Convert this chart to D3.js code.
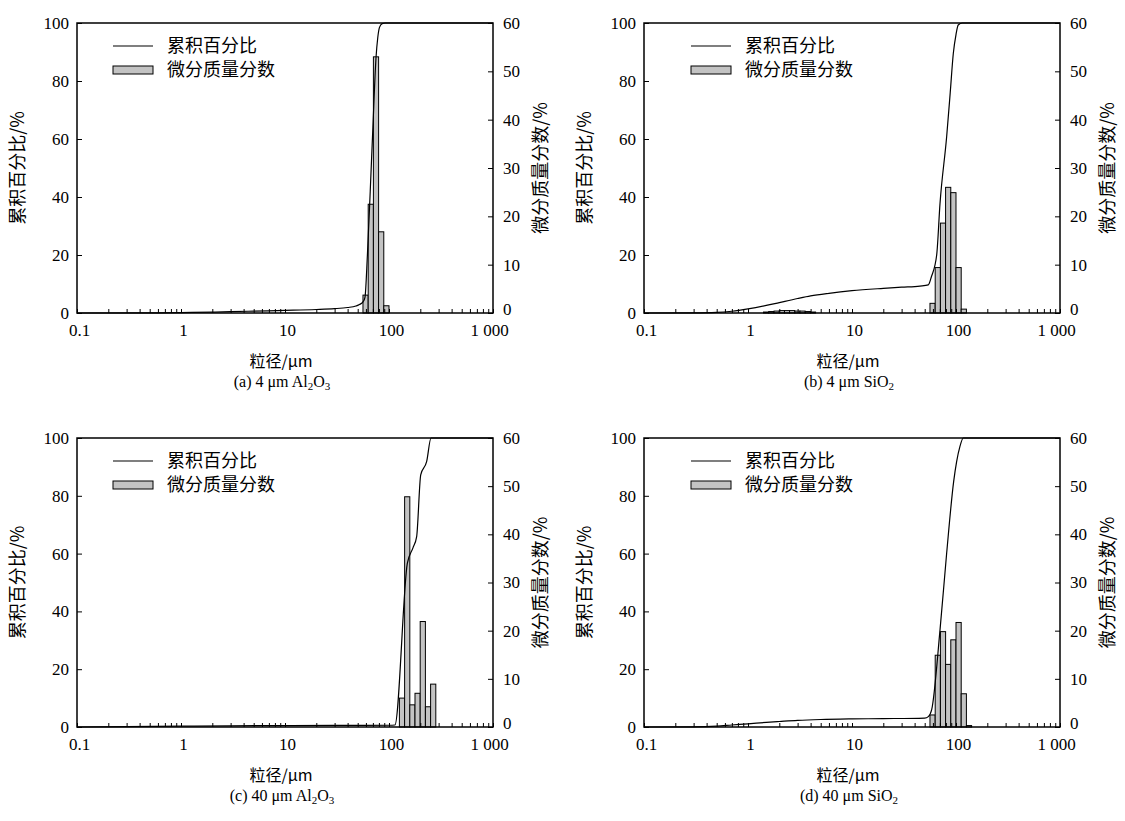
<!DOCTYPE html>
<html><head><meta charset="utf-8">
<script src="https://cdn.jsdelivr.net/npm/d3@7"></script>
<style>body{margin:0;background:#fff}</style>
</head><body>
<svg id="chart" width="1125" height="821"></svg>
<script>
// ---------- data ----------
const xTickValues = [0.1, 1, 10, 100, 1000];
const xTickLabels = ["0.1", "1", "10", "100", "1 000"];
const leftTicks = [0, 20, 40, 60, 80, 100];
const rightTicks = [0, 10, 20, 30, 40, 50, 60];
const legendLabels = ["累积百分比", "微分质量分数"];
const xTitle = "粒径/μm";
const yLeftTitle = "累积百分比/%";
const yRightTitle = "微分质量分数/%";
const binRatio = 1.122; // width of one size class (10^0.05)

// (a) 4 μm Al2O3
const binsA = [56.2, 63.1, 70.8, 79.4, 89.1];
const valsA = [3.7, 22.5, 53.0, 16.8, 1.5];
const cumXA = [0.1, 0.5, 1, 2, 3, 5, 10, 20, 30, 40, 48, 52, 56.6, 58.8, 62, 66, 70, 75, 78, 81, 86, 92, 1000];
const cumYA = [0, 0.05, 0.15, 0.3, 0.45, 0.65, 0.9, 1.2, 1.5, 1.9, 2.4, 2.9, 4.0, 5.5, 20, 42, 64, 88, 95, 98.5, 99.8, 100, 100];

// (b) 4 μm SiO2
const binsB = [1.41, 1.58, 1.78, 2.0, 2.24, 2.51, 2.82, 3.16, 3.55, 3.98, 56.2, 63.1, 70.8, 79.4, 89.1, 100, 112.2];
const valsB = [0.2, 0.3, 0.4, 0.5, 0.5, 0.5, 0.4, 0.4, 0.3, 0.2, 2.0, 9.4, 18.6, 26.0, 24.9, 9.4, 0.8];
const cumXB = [0.1, 0.3, 0.5, 0.7, 1, 1.5, 2, 3, 4, 6, 10, 20, 30, 45, 54.2, 58, 65.2, 70.2, 81.3, 88, 94.2, 100, 105, 115, 1000];
const cumYB = [0, 0.05, 0.2, 0.6, 1.4, 2.6, 3.6, 5.0, 5.9, 6.8, 7.7, 8.5, 8.9, 9.3, 9.7, 12.5, 20, 37.8, 60.8, 76, 89.5, 96, 99.3, 100, 100];

// (c) 40 μm Al2O3
const binsC = [125.9, 141.3, 158.5, 177.8, 199.5, 223.9, 251.2];
const valsC = [6.0, 47.8, 4.6, 7.0, 21.9, 4.2, 8.9];
const cumXC = [0.1, 0.3, 1, 3, 10, 30, 100, 114, 150, 170, 184.5, 201.8, 230, 253.6, 1000];
const cumYC = [0, 0.1, 0.3, 0.4, 0.5, 0.55, 0.6, 0.7, 56.6, 62, 65.9, 87.2, 91.8, 100, 100];

// (d) 40 μm SiO2
const binsD = [56.2, 63.1, 70.8, 79.4, 89.1, 100, 112.2, 125.9];
const valsD = [2.5, 14.9, 19.8, 13.0, 18.1, 21.7, 6.9, 0.3];
const cumXD = [0.1, 0.3, 0.5, 0.7, 1, 1.5, 2, 3, 5, 10, 20, 50, 54.2, 58.3, 70.2, 81.3, 95, 101.4, 109, 117.5, 1000];
const cumYD = [0, 0.05, 0.3, 0.7, 1.1, 1.6, 1.9, 2.3, 2.6, 2.8, 2.9, 3.1, 3.6, 5.9, 33.6, 60.1, 85, 91.8, 97, 100, 100];

// captions: text pieces, flag 1 = subscript
const captions = [
  [["(a) 4 μm Al", 0], ["2", 1], ["O", 0], ["3", 1]],
  [["(b) 4 μm SiO", 0], ["2", 1]],
  [["(c) 40 μm Al", 0], ["2", 1], ["O", 0], ["3", 1]],
  [["(d) 40 μm SiO", 0], ["2", 1]]
];

// ---------- layout ----------
const panels = [
  {left: 77, right: 493, top: 23, bottom: 313, bins: binsA, vals: valsA, cx: cumXA, cy: cumYA, leg: 0, cap: captions[0]},
  {left: 644, right: 1060, top: 23, bottom: 313, bins: binsB, vals: valsB, cx: cumXB, cy: cumYB, leg: 11, cap: captions[1]},
  {left: 77, right: 493, top: 438, bottom: 727, bins: binsC, vals: valsC, cx: cumXC, cy: cumYC, leg: 0, cap: captions[2]},
  {left: 644, right: 1060, top: 438, bottom: 727, bins: binsD, vals: valsD, cx: cumXD, cy: cumYD, leg: 11, cap: captions[3]}
];

const serif = "'Liberation Serif', 'Times New Roman', 'Noto Sans CJK SC', serif";
const cjk = "'Noto Sans CJK SC', 'Liberation Serif', sans-serif";
const svg = d3.select("#chart");
svg.append("rect").attr("width", 1125).attr("height", 821).attr("fill", "#fff");

// minor + major tick values for log axis
const logTicks = [];
for (let e = -1; e < 3; e++) for (let m = 1; m < 10; m++) logTicks.push(m * Math.pow(10, e));
logTicks.push(1000);

panels.forEach(p => {
  const g = svg.append("g");
  const x = d3.scaleLog().domain([0.1, 1000]).range([p.left, p.right]);
  const yL = d3.scaleLinear().domain([0, 100]).range([p.bottom, p.top]);
  const yR = d3.scaleLinear().domain([0, 60]).range([p.bottom, p.top]);

  // bars
  const barData = p.bins.map((b, i) => ({lo: b, hi: b * binRatio, v: p.vals[i]}));
  g.selectAll("rect.bar").data(barData).enter().append("rect")
    .attr("class", "bar")
    .attr("x", d => x(d.lo)).attr("width", d => x(d.hi) - x(d.lo))
    .attr("y", d => yR(d.v)).attr("height", d => yR(0) - yR(d.v))
    .attr("fill", "#c3c3c3").attr("stroke", "#000").attr("stroke-width", 1);

  // cumulative curve
  const pts = p.cx.map((v, i) => [v, p.cy[i]]);
  g.append("path").datum(pts)
    .attr("d", d3.line().x(d => x(d[0])).y(d => yL(d[1])).curve(d3.curveMonotoneX))
    .attr("fill", "none").attr("stroke", "#000").attr("stroke-width", 1.2);

  // axes
  const labelMap = new Map(xTickValues.map((v, i) => [v, xTickLabels[i]]));
  const ax = g.append("g").attr("transform", `translate(0,${p.bottom})`)
    .call(d3.axisBottom(x).tickValues(logTicks).tickSizeInner(-4).tickSizeOuter(0).tickPadding(11)
      .tickFormat(d => labelMap.has(d) ? labelMap.get(d) : ""));
  ax.selectAll(".tick text").attr("dx", d => d === 1000 ? -4 : 2);
  const ayl = g.append("g").attr("transform", `translate(${p.left},0)`)
    .call(d3.axisLeft(yL).tickValues(leftTicks).tickSizeInner(-5).tickSizeOuter(0).tickPadding(8));
  const ayr = g.append("g").attr("transform", `translate(${p.right},0)`)
    .call(d3.axisRight(yR).tickValues(rightTicks).tickSizeInner(-5).tickSizeOuter(0).tickPadding(10));
  [ax, ayl, ayr].forEach(a => {
    a.select(".domain").remove();
    a.selectAll("line").attr("stroke", "#000").attr("stroke-width", 1);
    a.selectAll("text").attr("font-family", serif).attr("font-size", 17).attr("fill", "#000");
  });
  ayr.selectAll(".tick").filter(d => d === 0).select("text").attr("dy", "0.1em");

  // frame
  g.append("rect").attr("x", p.left).attr("y", p.top)
    .attr("width", p.right - p.left).attr("height", p.bottom - p.top)
    .attr("fill", "none").attr("stroke", "#000").attr("stroke-width", 1.5);

  // legend
  const lx = p.left + 36 + p.leg;
  const ly1 = p.top + 23, ly2 = p.top + 47;
  g.append("line").attr("x1", lx).attr("x2", lx + 40).attr("y1", ly1).attr("y2", ly1)
    .attr("stroke", "#000").attr("stroke-width", 1.2);
  g.append("rect").attr("x", lx).attr("y", ly2 - 4).attr("width", 40).attr("height", 8)
    .attr("fill", "#c3c3c3").attr("stroke", "#000").attr("stroke-width", 1);
  g.append("text").attr("x", lx + 54).attr("y", ly1).attr("dy", "0.35em")
    .attr("font-family", cjk).attr("font-size", 18).text(legendLabels[0]);
  g.append("text").attr("x", lx + 54).attr("y", ly2).attr("dy", "0.35em")
    .attr("font-family", cjk).attr("font-size", 18).text(legendLabels[1]);

  // axis titles
  const midY = (p.top + p.bottom) / 2;
  const midX = (p.left + p.right) / 2;
  g.append("text").attr("transform", `translate(${p.left - 59},${midY}) rotate(-90)`)
    .attr("text-anchor", "middle").attr("dy", "0.35em")
    .attr("font-family", cjk).attr("font-size", 18).text(yLeftTitle);
  g.append("text").attr("transform", `translate(${p.right + 48},${midY}) rotate(-90)`)
    .attr("text-anchor", "middle").attr("dy", "0.35em")
    .attr("font-family", cjk).attr("font-size", 18).text(yRightTitle);
  g.append("text").attr("x", midX - 4).attr("y", p.bottom + 48).attr("dy", "0.35em")
    .attr("text-anchor", "middle").attr("font-family", cjk).attr("font-size", 16).text(xTitle);

  // caption
  const cap = g.append("text").attr("x", midX - 3).attr("y", p.bottom + 68).attr("dy", "0.35em")
    .attr("text-anchor", "middle").attr("font-family", serif).attr("font-size", 16);
  p.cap.forEach(([t, sub]) => {
    cap.append("tspan").attr("font-size", sub ? 11 : 16)
      .attr("baseline-shift", sub ? "-25%" : null).text(t);
  });
});
</script>
</body></html>
